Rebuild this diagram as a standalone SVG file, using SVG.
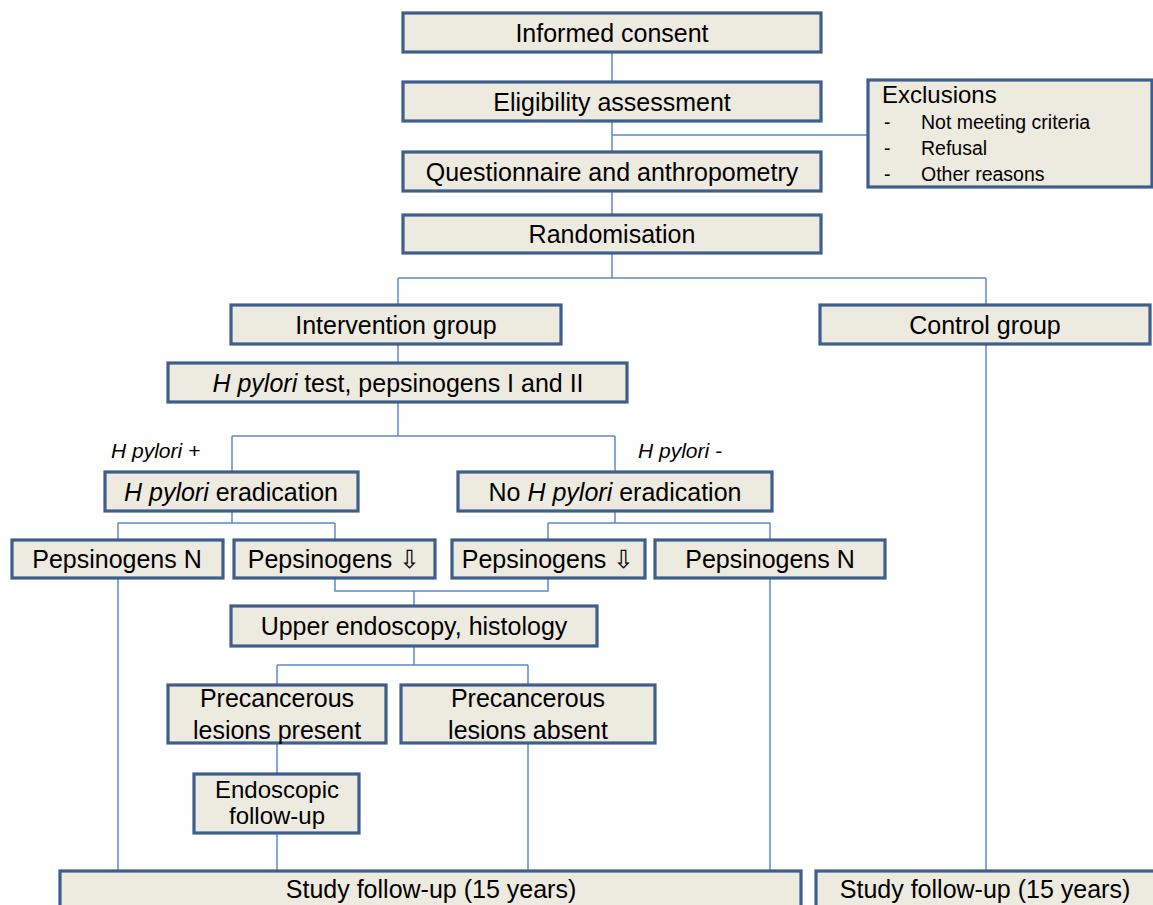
<svg xmlns="http://www.w3.org/2000/svg" width="1153" height="905" viewBox="0 0 1153 905">
<style>
.box{fill:#EDEAE0;stroke:#3E5E8C;stroke-width:3.2}
.t{font-family:"Liberation Sans",Arial,sans-serif;font-size:25px;fill:#000;text-anchor:middle}
.s{font-family:"Liberation Sans",Arial,sans-serif;font-size:19.5px;fill:#000}
.lab{font-family:"Liberation Sans",Arial,sans-serif;font-size:21px;font-style:italic;fill:#000}
.i{font-style:italic}
.c{fill:none;stroke:#5B8BD2;stroke-width:1.5}
</style>
<rect width="1153" height="905" fill="#fff"/>
<g id="connectors" class="c">
<path d="M612 52V82M612 121V152M612 135H868M612 191V215M612 253V278M398 278H986M398 278V305M986 278V305"/>
<path d="M398 344V363M986 344V872M398 402V436M232 436H615M232 436V472M615 436V472"/>
<path d="M232 511V523M118 523H335M118 523V540M335 523V540M615 511V523M548 523H770M548 523V540M770 523V540"/>
<path d="M118 578V871M770 578V871M335 578V591H548V578M414 591V606"/>
<path d="M414 646V665M277 665H528M277 665V685M528 665V685M277 743V774M277 833V871M528 743V871"/>
</g>
<g id="n1"><rect class="box" x="403" y="13" width="418" height="39"/><text class="t" x="612" y="41.5">Informed consent</text></g>
<g id="n2"><rect class="box" x="403" y="82" width="418" height="39"/><text class="t" x="612" y="110.5">Eligibility assessment</text></g>
<g id="n3"><rect class="box" x="403" y="152" width="418" height="39"/><text class="t" x="612" y="180.5">Questionnaire and anthropometry</text></g>
<g id="n4"><rect class="box" x="403" y="215" width="418" height="38"/><text class="t" x="612" y="243">Randomisation</text></g>
<g id="excl"><rect class="box" x="868" y="80" width="284" height="107"/>
<text class="s" x="882" y="103" style="font-size:24px">Exclusions</text>
<text class="s" x="884" y="129">-</text><text class="s" x="921" y="129">Not meeting criteria</text>
<text class="s" x="884" y="155">-</text><text class="s" x="921" y="155">Refusal</text>
<text class="s" x="884" y="181">-</text><text class="s" x="921" y="181">Other reasons</text></g>
<g id="interv"><rect class="box" x="231" y="305" width="330" height="39"/><text class="t" x="396" y="333.5">Intervention group</text></g>
<g id="control"><rect class="box" x="820" y="305" width="330" height="39"/><text class="t" x="985" y="333.5">Control group</text></g>
<g id="hptest"><rect class="box" x="168" y="363" width="459" height="39"/><text class="t" x="398" y="391.5"><tspan class="i">H pylori</tspan> test, pepsinogens I and II</text></g>
<g id="lab1"><text class="lab" x="111" y="458">H pylori +</text></g>
<g id="lab2"><text class="lab" x="638" y="458">H pylori -</text></g>
<g id="erad"><rect class="box" x="105" y="472" width="253" height="39"/><text class="t" x="231" y="500.5"><tspan class="i">H pylori</tspan> eradication</text></g>
<g id="noerad"><rect class="box" x="458" y="472" width="314" height="39"/><text class="t" x="615" y="500.5">No <tspan class="i">H pylori</tspan> eradication</text></g>
<g id="pn1"><rect class="box" x="12" y="540" width="211" height="38"/><text class="t" x="117" y="568">Pepsinogens N</text></g>
<g id="pd1"><rect class="box" x="234" y="540" width="201" height="38"/><text class="t" x="334" y="568">Pepsinogens ⇩</text></g>
<g id="pd2"><rect class="box" x="452" y="540" width="193" height="38"/><text class="t" x="548" y="568">Pepsinogens ⇩</text></g>
<g id="pn2"><rect class="box" x="655" y="540" width="230" height="38"/><text class="t" x="770" y="568">Pepsinogens N</text></g>
<g id="endo"><rect class="box" x="231" y="606" width="366" height="40"/><text class="t" x="414" y="635">Upper endoscopy, histology</text></g>
<g id="present"><rect class="box" x="168" y="685" width="218" height="58"/><text class="t" x="277" y="707">Precancerous</text><text class="t" x="277" y="739">lesions present</text></g>
<g id="absent"><rect class="box" x="401" y="685" width="254" height="58"/><text class="t" x="528" y="707">Precancerous</text><text class="t" x="528" y="739">lesions absent</text></g>
<g id="endofu"><rect class="box" x="194" y="774" width="165" height="59"/><text class="t" x="277" y="798" style="font-size:24px">Endoscopic</text><text class="t" x="277" y="824" style="font-size:24px">follow-up</text></g>
<g id="study1"><rect class="box" x="60" y="871" width="741" height="40"/><text class="t" x="431" y="898">Study follow-up (15 years)</text></g>
<g id="study2"><rect class="box" x="816" y="871" width="340" height="40"/><text class="t" x="985" y="898">Study follow-up (15 years)</text></g>
</svg>
